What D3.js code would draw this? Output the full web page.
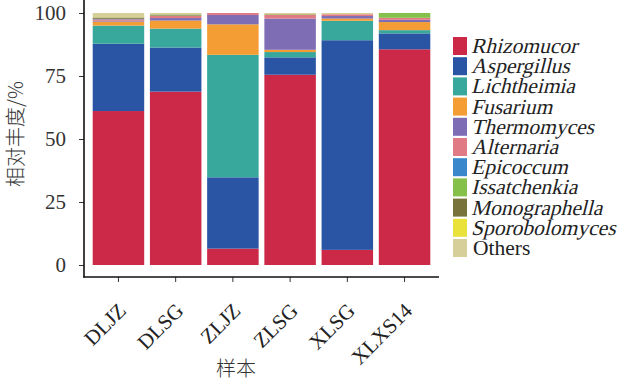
<!DOCTYPE html>
<html><head><meta charset="utf-8">
<script src="https://cdn.jsdelivr.net/npm/d3@7"></script>
<style>
html,body{margin:0;padding:0;background:#fff;}
svg{display:block;}
</style></head>
<body>
<svg id="chart" width="626" height="383"></svg>
<script>
const samples = ["DLJZ","DLSG","ZLJZ","ZLSG","XLSG","XLXS14"];
const genera = ["Rhizomucor","Aspergillus","Lichtheimia","Fusarium","Thermomyces","Alternaria","Epicoccum","Issatchenkia","Monographella","Sporobolomyces","Others"];
const colors = ["#CC2848","#2A55A4","#38A89D","#F59D35","#7E6DB5","#E07A84","#3A87CC","#84C04A","#77733A","#E8E23A","#D6CF9A"];
// values per genus, one per sample (%)
const Rhizomucor     = [61.1, 68.8,  6.5, 75.5,  6.0, 85.6];
const Aspergillus    = [26.7, 17.5, 28.3,  6.9, 83.2,  6.3];
const Lichtheimia    = [ 7.2,  7.5, 48.6,  2.1,  7.7,  1.3];
const Fusarium       = [ 1.6,  3.2, 12.1,  0.9,  0.9,  3.2];
const Thermomyces    = [ 0.3,  1.0,  3.7, 12.4,  1.0,  0.9];
const Alternaria     = [ 0.6,  0.8,  0.8,  1.6,  0.7,  0.8];
const Epicoccum      = [ 0.2,  0.0,  0.0,  0.0,  0.0,  0.0];
const Issatchenkia   = [ 0.0,  0.2,  0.0,  0.2,  0.0,  1.9];
const Monographella  = [ 0.5,  0.4,  0.0,  0.0,  0.0,  0.0];
const Sporobolomyces = [ 0.1,  0.0,  0.0,  0.0,  0.0,  0.0];
const Others         = [ 1.7,  0.6,  0.0,  0.4,  0.5,  0.0];
const yTicks = [0,25,50,75,100];

const seriesVals = [Rhizomucor,Aspergillus,Lichtheimia,Fusarium,Thermomyces,Alternaria,Epicoccum,Issatchenkia,Monographella,Sporobolomyces,Others];
const table = samples.map((s,i)=>{
  const o = {sample:s};
  genera.forEach((g,j)=>{o[g]=seriesVals[j][i];});
  return o;
});

const svg = d3.select("#chart");
const x = d3.scaleBand().domain(samples).range([84,439]).paddingInner(0.1).paddingOuter(0.152);
const y = d3.scaleLinear().domain([0,100]).range([265,13]);
const color = d3.scaleOrdinal().domain(genera).range(colors);

const stacked = d3.stack().keys(genera)(table);

svg.append("g").selectAll("g").data(stacked).join("g")
  .attr("fill", d=>color(d.key))
  .selectAll("rect").data(d=>d).join("rect")
  .attr("x", d=>x(d.data.sample))
  .attr("width", x.bandwidth())
  .attr("y", d=>y(d[1]))
  .attr("height", d=>Math.max(0, y(d[0])-y(d[1])));

const serif = "'Liberation Serif','Times New Roman',serif";
const cjk = "'Noto Sans CJK SC',sans-serif";

// Y axis
const yAxis = svg.append("g").attr("transform","translate(84,0)")
  .call(d3.axisLeft(y).tickValues(yTicks).tickSize(5).tickPadding(13));
yAxis.select(".domain").remove();
yAxis.selectAll("text").attr("font-family",serif).attr("font-size",21).attr("fill","#333");
yAxis.selectAll("line").attr("stroke","#333").attr("stroke-width",1);

// X axis
const xAxis = svg.append("g").attr("transform","translate(0,277)")
  .call(d3.axisBottom(x).tickSize(5).tickPadding(4));
xAxis.select(".domain").remove();
xAxis.selectAll("line").attr("stroke","#333").attr("stroke-width",1);
xAxis.selectAll("text")
  .attr("font-family",serif).attr("font-size",21).attr("fill","#222")
  .attr("text-anchor","end")
  .attr("dy",null)
  .attr("transform","translate(9,35) rotate(-45)")
  .attr("y",0).attr("x",0);

// axis lines
svg.append("line").attr("x1",84).attr("x2",84).attr("y1",0).attr("y2",277.5)
  .attr("stroke","#111").attr("stroke-width",1.6);
svg.append("line").attr("x1",83.2).attr("x2",439).attr("y1",277).attr("y2",277)
  .attr("stroke","#111").attr("stroke-width",1.6);

// axis titles
svg.append("text").attr("transform","translate(23,134) rotate(-90)")
  .attr("text-anchor","middle").attr("font-family",cjk).attr("font-size",20)
  .attr("font-weight",300).attr("fill","#333").text("相对丰度/%");
svg.append("text").attr("x",236).attr("y",376)
  .attr("text-anchor","middle").attr("font-family",cjk).attr("font-size",20)
  .attr("font-weight",300).attr("fill","#333").text("样本");

// Legend
const leg = svg.append("g");
genera.forEach((g,i)=>{
  const cy = 46 + i*20.2;
  leg.append("rect").attr("x",453).attr("y",cy-9).attr("width",14).attr("height",18)
    .attr("fill",color(g));
  const isItalic = g !== "Others";
  leg.append("text")
    .attr("transform", `translate(${isItalic ? 471 : 473},${cy+7})` + (isItalic ? " skewX(-14)" : ""))
    .attr("font-family",serif).attr("font-size",21.5)
    .attr("fill","#222").text(g);
});
</script>
</body></html>
